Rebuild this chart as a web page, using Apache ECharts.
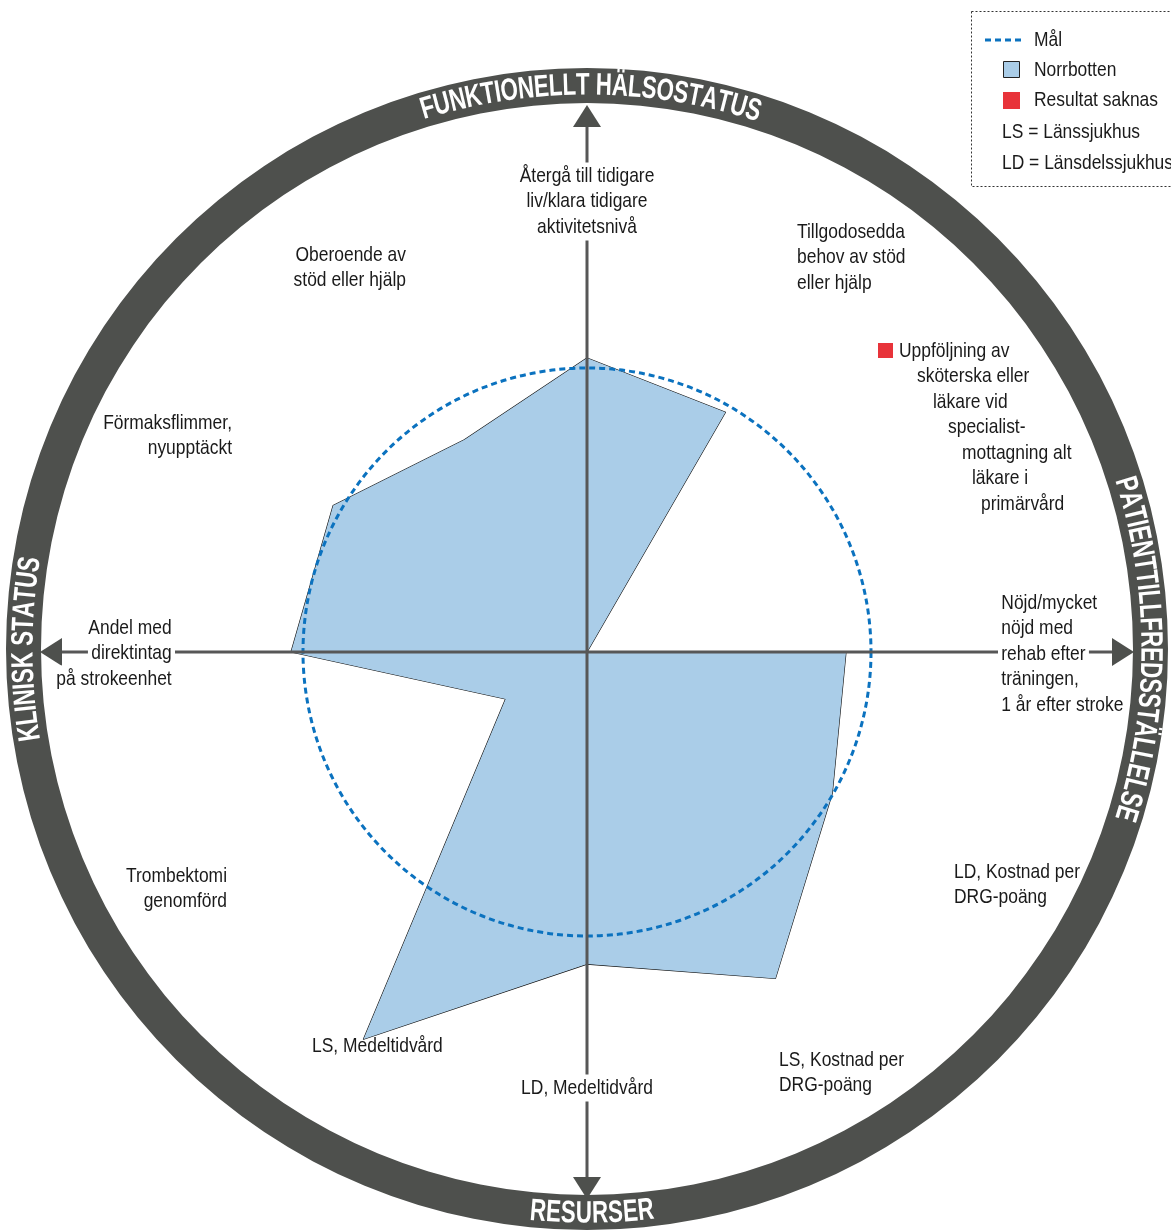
<!DOCTYPE html>
<html>
<head>
<meta charset="utf-8">
<script src="https://cdn.jsdelivr.net/npm/echarts@6/dist/echarts.min.js"></script>
<style>
html, body { margin: 0; padding: 0; background: #fff; }
#chart { width: 1171px; height: 1232px; }
</style>
</head>
<body>
<div id="chart"></div>
<script>
// indicators, clockwise from the top
var categories = [
    'Återgå till tidigare\nliv/klara tidigare\naktivitetsnivå',
    'Tillgodosedda\nbehov av stöd\neller hjälp',
    'Uppföljning av\nsköterska eller\nläkare vid\nspecialist-\nmottagning alt\nläkare i\nprimärvård',
    'Nöjd/mycket\nnöjd med\nrehab efter\nträningen,\n1 år efter stroke',
    'LD, Kostnad per\nDRG-poäng',
    'LS, Kostnad per\nDRG-poäng',
    'LD, Medeltidvård',
    'LS, Medeltidvård',
    'Trombektomi\ngenomförd',
    'Andel med\ndirektintag\npå strokeenhet',
    'Förmaksflimmer,\nnyupptäckt',
    'Oberoende av\nstöd eller hjälp'
];
// Norrbotten relative to the goal (Mål = 1)
var norrbotten = [1.035, 0.975, 0, 0.912, 0.997, 1.327, 1.099, 1.574, 0.331, 1.042, 1.032, 0.863];
var missing = [false, false, true, false, false, false, false, false, false, false, false, false];
var malValue = 1;
var sections = ['FUNKTIONELLT HÄLSOSTATUS', 'PATIENTTILLFREDSSTÄLLELSE', 'RESURSER', 'KLINISK STATUS'];
var sectionAngles = [0, 90, 180, 270];
var legendNames = ['Mål', 'Norrbotten', 'Resultat saknas'];
var abbreviations = ['LS = Länssjukhus', 'LD = Länsdelssjukhus'];

var FONT = "'Liberation Sans', Arial, sans-serif";
var BODY = '21px ' + FONT;
var NARROW = 0.83;         // squeeze to look like a condensed face
var cx = 587, cy = 652;
var radius = 568;          // value 2 at the rim, goal (1) at 284px
var ringCy = 649;
var textColor = '#1a1a1a';
var darkGrey = '#4e504d';
var titleNudge = [0.4, 0, -0.5, 0];   // degrees, small placement tweak

// label placement (px from center of the first line)
var labelLayout = [
    {dx: 0, dy: -476, align: 'center', bg: true},
    {dx: 210, dy: -420, align: 'left'},
    {dx: [312, 330, 346, 361, 375, 385, 394], dy: -301, align: 'left'},
    {dx: 411, dy: -49, align: 'left', bg: true},
    {dx: 367, dy: 220, align: 'left'},
    {dx: 192, dy: 408, align: 'left'},
    {dx: 0, dy: 436, align: 'center', bg: true},
    {dx: -275, dy: 394, align: 'left'},
    {dx: -360, dy: 224, align: 'right'},
    {dx: -412, dy: -24, align: 'right', bg: true},
    {dx: -355, dy: -229, align: 'right'},
    {dx: -181, dy: -397, align: 'right'}
];
var lineGap = 25.5;

// echarts radar goes counter-clockwise, so reorder
var order = [0];
for (var k = categories.length - 1; k >= 1; k--) order.push(k);

var myChart = echarts.init(document.getElementById('chart'));

var elements = [];

// outer ring
elements.push({
    type: 'ring', z: 1,
    shape: {cx: cx, cy: ringCy, r: 581, r0: 546},
    style: {fill: darkGrey}
});

// curved section titles
var measure = document.createElement('canvas').getContext('2d');
function arcText(str, angleDeg, r, clockwise) {
    var size = 31, scaleX = 0.72;
    measure.font = 'bold ' + size + 'px ' + FONT;
    var chars = str.split('');
    var widths = chars.map(function (ch) { return measure.measureText(ch).width * scaleX; });
    var total = widths.reduce(function (a, b) { return a + b; }, 0);
    var s = -total / 2;
    chars.forEach(function (ch, i) {
        var mid = s + widths[i] / 2;
        s += widths[i];
        var a = angleDeg * Math.PI / 180 + (clockwise ? 1 : -1) * mid / r;
        elements.push({
            type: 'text', z: 5,
            x: cx + r * Math.sin(a),
            y: ringCy - r * Math.cos(a),
            rotation: clockwise ? -a : -(a - Math.PI),
            scaleX: scaleX,
            style: {
                text: ch, x: 0, y: 1, align: 'center', verticalAlign: 'middle',
                fill: '#fff', font: 'bold ' + size + 'px ' + FONT
            }
        });
    });
}
sections.forEach(function (t, i) {
    arcText(t, sectionAngles[i] + titleNudge[i], 564, sectionAngles[i] !== 180);
});

// axis cross with arrows
[0, 90, 180, 270].forEach(function (deg) {
    var a = deg * Math.PI / 180;
    var sx = Math.sin(a), sy = -Math.cos(a);
    var px = -sy, py = sx;
    var tip = 547, base = 525, hw = 14;
    elements.push({
        type: 'line', z: 50,
        shape: {x1: cx, y1: cy, x2: cx + sx * base, y2: cy + sy * base},
        style: {stroke: '#575757', lineWidth: 3}
    });
    elements.push({
        type: 'polygon', z: 50,
        shape: {points: [
            [cx + sx * tip, cy + sy * tip],
            [cx + sx * base + px * hw, cy + sy * base + py * hw],
            [cx + sx * base - px * hw, cy + sy * base - py * hw]
        ]},
        style: {fill: darkGrey}
    });
});

// indicator labels
categories.forEach(function (name, i) {
    var lay = labelLayout[i];
    name.split('\n').forEach(function (line, j) {
        var dx = Array.isArray(lay.dx) ? lay.dx[j] : lay.dx;
        elements.push({
            type: 'text', z: 60,
            x: cx + dx, y: cy + lay.dy + j * lineGap,
            scaleX: NARROW,
            style: {
                text: line, align: lay.align, verticalAlign: 'middle',
                font: BODY, fill: textColor,
                backgroundColor: lay.bg ? '#fff' : null,
                padding: lay.bg ? [3, 4] : 0
            }
        });
    });
    if (missing[i]) {
        var first = Array.isArray(lay.dx) ? lay.dx[0] : lay.dx;
        elements.push({
            type: 'rect', z: 60,
            shape: {x: cx + first - 21, y: cy + lay.dy - 8, width: 15, height: 15},
            style: {fill: '#e8333a'}
        });
    }
});

// legend box
elements.push({
    type: 'rect', z: 60,
    shape: {x: 971.5, y: 11.5, width: 230, height: 175},
    style: {fill: '#fff', stroke: '#333', lineWidth: 1, lineDash: [2, 2]}
});
elements.push({
    type: 'line', z: 61,
    shape: {x1: 985, y1: 40, x2: 1021, y2: 40},
    style: {stroke: '#0b72bf', lineWidth: 3, lineDash: [6, 4]}
});
elements.push({
    type: 'rect', z: 61,
    shape: {x: 1003.5, y: 61.5, width: 16, height: 16},
    style: {fill: '#aacde8', stroke: '#222', lineWidth: 1}
});
elements.push({
    type: 'rect', z: 61,
    shape: {x: 1003, y: 92, width: 17, height: 17},
    style: {fill: '#e8333a'}
});
legendNames.forEach(function (t, i) {
    elements.push({
        type: 'text', z: 61, x: 1034, y: 40 + i * 30, scaleX: NARROW,
        style: {text: t, verticalAlign: 'middle', font: BODY, fill: textColor}
    });
});
abbreviations.forEach(function (t, i) {
    elements.push({
        type: 'text', z: 61, x: 1002, y: 132 + i * 31, scaleX: NARROW,
        style: {text: t, verticalAlign: 'middle', font: BODY, fill: textColor}
    });
});

var option = {
    animation: false,
    backgroundColor: '#fff',
    radar: {
        z: 5,
        center: [cx, cy],
        radius: radius,
        startAngle: 90,
        shape: 'circle',
        splitNumber: 2,
        indicator: order.map(function (i) { return {name: categories[i], min: 0, max: 2 * malValue}; }),
        axisName: {show: false},
        axisLine: {show: false},
        axisTick: {show: false},
        axisLabel: {show: false},
        splitArea: {show: false},
        splitLine: {
            show: true,
            lineStyle: {color: ['rgba(0,0,0,0)', '#0b72bf'], width: 3, type: [6, 4]}
        }
    },
    series: [{
        name: 'Norrbotten',
        type: 'radar',
        z: 2,
        symbol: 'none',
        lineStyle: {color: '#111', width: 1.2},
        areaStyle: {color: '#aacde8', opacity: 1},
        data: [{name: 'Norrbotten', value: order.map(function (i) { return norrbotten[i]; })}]
    }],
    graphic: {elements: elements}
};
myChart.setOption(option);
</script>
</body>
</html>
